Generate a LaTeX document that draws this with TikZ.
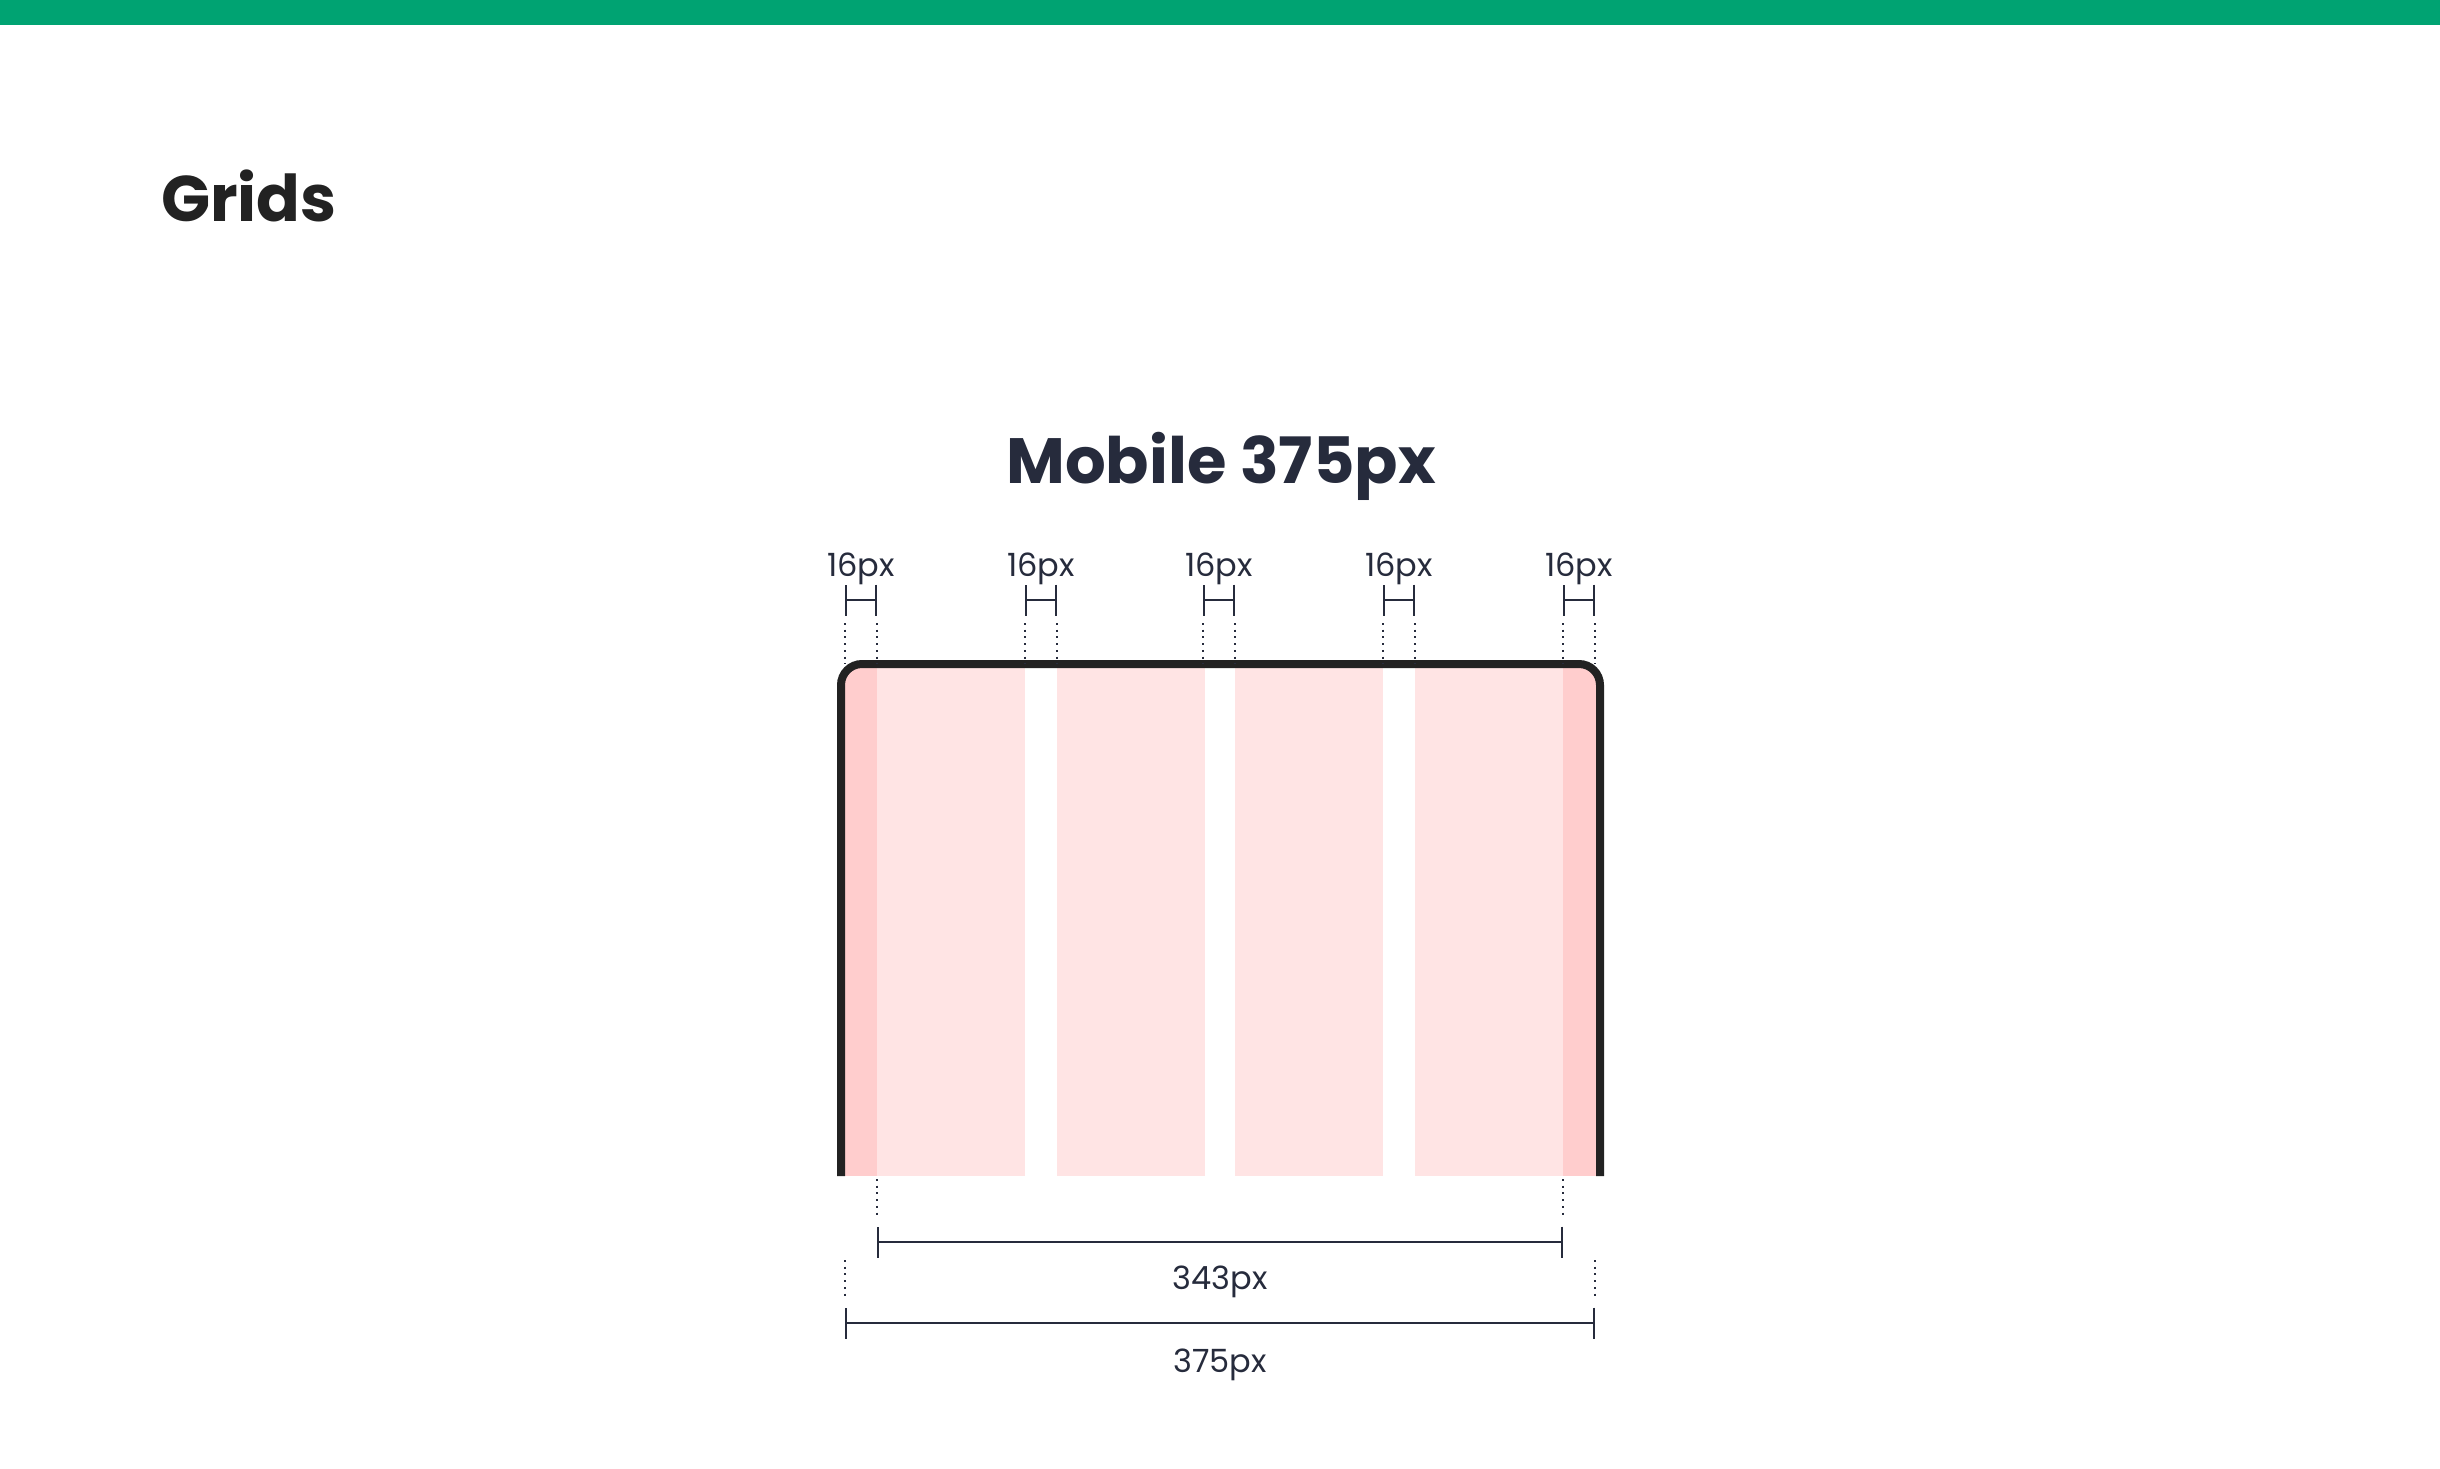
\documentclass[tikz,border=0pt]{standalone}
\usepackage{fontspec}
\setmainfont{Poppins}
\usetikzlibrary{arrows.meta, calc}

\definecolor{topgreen}{HTML}{00A372}
\definecolor{ink}{HTML}{222222}
\definecolor{navy}{HTML}{262B3C}
\definecolor{colpink}{HTML}{FFE4E4}
\definecolor{marginpink}{HTML}{FFCDCD}

\tikzset{
	dimline/.style={navy, line width=2pt, {Bar[width=31pt]}-{Bar[width=31pt]}},
	guide/.style={navy, line width=2pt, dash pattern=on 2pt off 4.7pt},
	dimlabel/.style={navy, inner sep=0pt, anchor=base, font=\fontsize{32}{36}\selectfont},
}

\begin{document}
\begin{tikzpicture}[x=1pt, y=-1pt]
	\useasboundingbox (0,0) rectangle (2440,1468);
	\fill[topgreen] (0,0) rectangle (2440,25);

	\node (Title) [anchor=base west, inner sep=0pt, ink, font=\fontsize{64.5}{70}\selectfont\bfseries] at (161,221) {Grids};
	\node (Heading) [anchor=base, inner sep=0pt, navy, font=\fontsize{64}{70}\selectfont\bfseries] at (1221,483) {Mobile 375px};

	% screen with margins and columns
	\begin{scope}
		\clip[rounded corners=21pt] (841,664) rectangle (1600,1260);
		\fill[marginpink] (841,664) rectangle (877,1176);
		\fill[marginpink] (1563,664) rectangle (1600,1176);
		\foreach \a/\b in {877/1025, 1057/1205, 1235/1383, 1415/1563}
			\fill[colpink] (\a,668) rectangle (\b,1176);
	\end{scope}
	\coordinate (ScreenBL) at (841,1176);
	\coordinate (ScreenBR) at (1600,1176);
	\draw[ink, line width=8pt, rounded corners=21pt] (ScreenBL) -- (841,664) -- (1600,664) -- (ScreenBR);

	% margins and gutters
	\foreach \i/\a/\b in {1/845/877, 2/1025/1057, 3/1203/1235, 4/1383/1415, 5/1563/1595} {
		\coordinate (GapL\i) at (\a,600);
		\coordinate (GapR\i) at (\b,600);
		\draw[dimline] (GapL\i) -- (GapR\i);
		\draw[guide] (\a,623) -- (\a,664);
		\draw[guide] (\b,623) -- (\b,664);
		\node (GapLabel\i) [dimlabel] at ($(\a,576)!0.5!(\b,576)$) {16px};
	}

	% content width
	\coordinate (ContentL) at (877,1242);
	\coordinate (ContentR) at (1563,1242);
	\draw[guide] (877,1179) -- (877,1218);
	\draw[guide] (1563,1179) -- (1563,1218);
	\draw[dimline] (ContentL) -- (ContentR);
	\node (ContentLabel) [dimlabel] at (1220,1289) {343px};

	% screen width
	\coordinate (ScreenL) at (845,1323);
	\coordinate (ScreenR) at (1595,1323);
	\draw[guide] (845,1260) -- (845,1300);
	\draw[guide] (1595,1260) -- (1595,1300);
	\draw[dimline] (ScreenL) -- (ScreenR);
	\node (ScreenLabel) [dimlabel] at (1220,1372) {375px};
\end{tikzpicture}
\end{document}
